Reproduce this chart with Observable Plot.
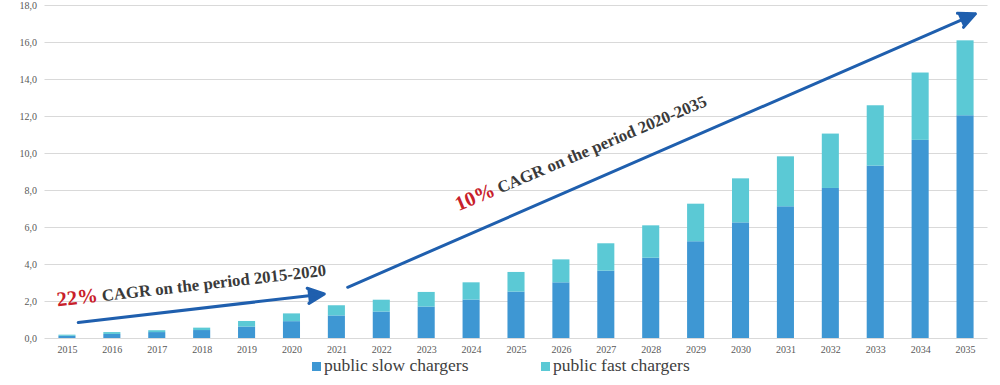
<!DOCTYPE html>
<html><head><meta charset="utf-8">
<script src="https://cdn.jsdelivr.net/npm/d3@7"></script>
<script src="https://cdn.jsdelivr.net/npm/@observablehq/plot@0.6"></script>
<style>
body{margin:0;background:#fff;}
#chart svg{display:block;}
#legend{position:relative;width:1000px;height:30px;font-family:"Liberation Serif",serif;font-size:17.5px;color:#404040;}
#legend .item{position:absolute;top:0;display:flex;align-items:center;white-space:nowrap;}
#legend .sw{width:9px;height:9px;margin-right:3px;margin-top:2px;}
</style></head><body>
<div id="chart"></div>
<div id="legend"></div>
<script>
const years = [2015,2016,2017,2018,2019,2020,2021,2022,2023,2024,2025,2026,2027,2028,2029,2030,2031,2032,2033,2034,2035];
const slowValues = [0.12,0.22,0.32,0.43,0.62,0.91,1.22,1.43,1.70,2.08,2.51,3.01,3.64,4.34,5.23,6.25,7.12,8.11,9.32,10.71,12.04];
const fastValues = [0.06,0.10,0.10,0.13,0.30,0.42,0.55,0.64,0.79,0.93,1.06,1.24,1.48,1.75,2.03,2.38,2.70,2.94,3.26,3.64,4.05];
const yTicks = [0,2,4,6,8,10,12,14,16,18];
const seriesNames = ["public slow chargers","public fast chargers"];
const seriesColors = ["#3e97d3","#5bc9d5"];

// annotation arrows (data coordinates)
const arrowX1 = [2015.24, 2021.24];
const arrowY1 = [0.86, 2.77];
const arrowX2 = [2020.72, 2035.22];
const arrowY2 = [2.41, 17.55];

// annotation texts
const annoX = [2014.78, 2023.71];
const annoY = [1.74, 6.88];
const annoPct = ["22%", "10%"];
const annoRest = ["CAGR on the period 2015-2020", "CAGR on the period 2020-2035"];
const annoAngle = [-6.5, -23];

const rows = [];
years.forEach((yr, i) => {
  rows.push({year: yr, type: seriesNames[0], y1: 0, y2: slowValues[i]});
  rows.push({year: yr, type: seriesNames[1], y1: slowValues[i], y2: slowValues[i] + fastValues[i]});
});
const arrows = arrowX1.map((x, i) => ({x1: x, y1: arrowY1[i], x2: arrowX2[i], y2: arrowY2[i]}));
const annos = annoX.map((x, i) => ({x, y: annoY[i], text: annoPct[i] + " " + annoRest[i], angle: annoAngle[i]}));
const half = 0.19;
const arrowColor = "#1f5fae";

const plot = Plot.plot({
  width: 1000, height: 355,
  marginLeft: 44.5, marginRight: 12.5, marginTop: 5, marginBottom: 17,
  x: {domain: [2014.5, 2035.5], axis: null},
  y: {domain: [0, 18], axis: null},
  color: {domain: seriesNames, range: seriesColors},
  style: {fontFamily: "Liberation Serif, serif", fontSize: "10px", color: "#595959", background: "#fff"},
  marks: [
    Plot.gridY(yTicks, {stroke: "#d9d9d9", strokeOpacity: 1, strokeWidth: 1}),
    Plot.axisY(yTicks, {tickSize: 0, tickPadding: 8, tickFormat: d => d.toFixed(1).replace(".", ","), label: null, fill: "#595959", fontSize: 10}),
    Plot.axisX(years, {tickSize: 0, tickPadding: 7, tickFormat: d => String(d), label: null, fill: "#595959", fontSize: 10}),
    Plot.rectY(rows, {x1: d => d.year - half, x2: d => d.year + half, y1: "y1", y2: "y2", fill: "type"}),
    Plot.arrow(arrows, {x1: "x1", y1: "y1", x2: "x2", y2: "y2", stroke: arrowColor, strokeWidth: 3, headLength: 9, headAngle: 50, bend: 0}),
    Plot.text(annos, {x: "x", y: "y", text: "text", rotate: "angle", textAnchor: "start", lineAnchor: "bottom", fontWeight: "bold", fontSize: 16.8, fill: "#3a3a3a"})
  ]
});
document.getElementById("chart").appendChild(plot);

// filled arrow heads
d3.select(plot).selectAll('g[aria-label="arrow"] path').attr("fill", arrowColor).attr("stroke-linejoin", "miter");

// style the percentage part of annotations in red and larger
d3.select(plot).selectAll("text").each(function() {
  const el = d3.select(this);
  const t = this.textContent;
  const m = /^(\d+%) (.*)$/.exec(t);
  if (!m || this.querySelector("tspan tspan")) return;
  let target = el;
  const tsp = this.querySelector("tspan");
  if (tsp) target = d3.select(tsp);
  target.text(null);
  target.append("tspan").attr("fill", "#c8202a").attr("font-size", 20.5).text(m[1]);
  target.append("tspan").text(" " + m[2]);
});

// legend
const legend = d3.select("#legend");
const legendLeft = [312, 541];
seriesNames.forEach((n, i) => {
  const it = legend.append("div").attr("class", "item").style("left", legendLeft[i] + "px");
  it.append("div").attr("class", "sw").style("background", seriesColors[i]);
  it.append("span").text(n);
});
</script>
</body></html>
